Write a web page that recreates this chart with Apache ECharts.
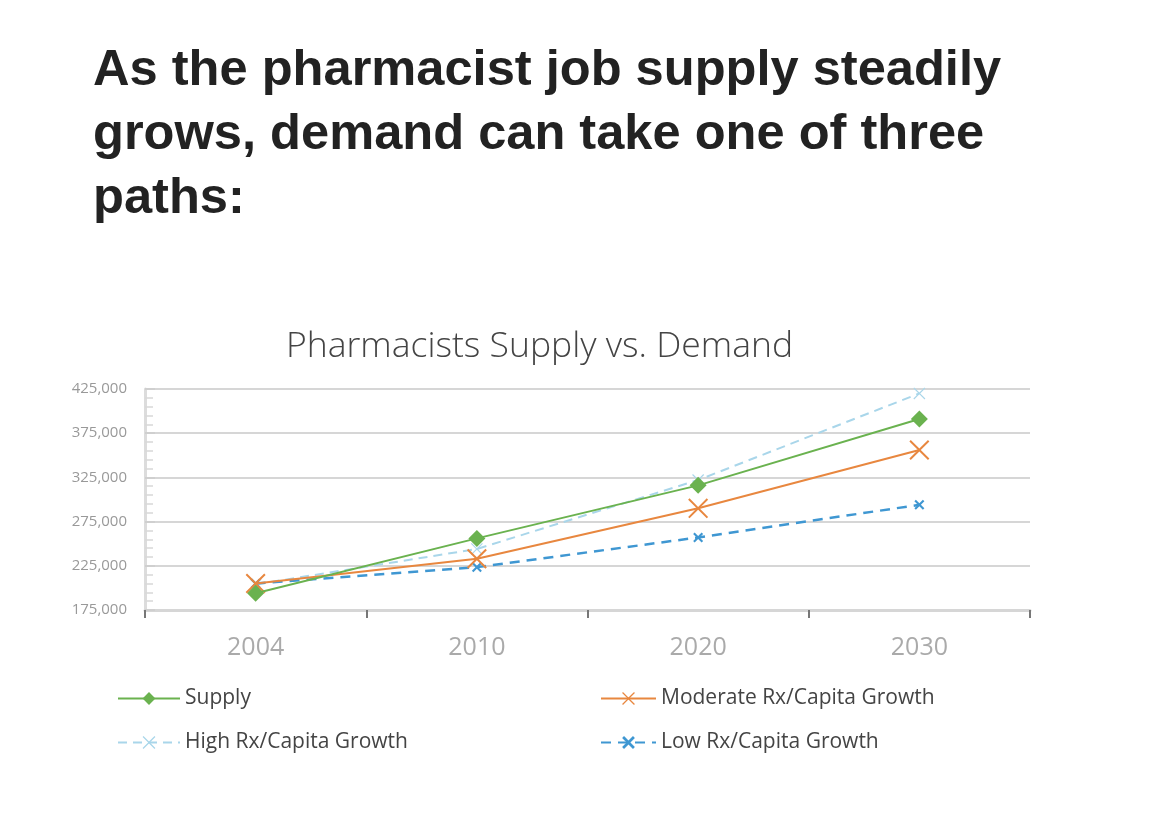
<!DOCTYPE html>
<html>
<head>
<meta charset="utf-8">
<script src="https://cdn.jsdelivr.net/npm/echarts@6/dist/echarts.min.js"></script>
<style>
  html, body { margin: 0; padding: 0; background: #fff; }
  #chart { width: 1170px; height: 822px; }
</style>
</head>
<body>
<div id="chart"></div>
<script>
var years = ['2004', '2010', '2020', '2030'];
var supply = [194000, 256000, 316000, 391000];
var moderate = [205000, 233000, 290000, 356000];
var high = [204000, 244000, 322000, 420000];
var low = [205000, 223500, 257000, 294000];

// X cross drawn as a filled outline
var crossPath = 'path://M0,1.4L1.4,0L10,8.6L18.6,0L20,1.4L11.4,10L20,18.6L18.6,20L10,11.4L1.4,20L0,18.6L8.6,10Z';
var boldCross = 'path://M0,3L3,0L10,7L17,0L20,3L13,10L20,17L17,20L10,13L3,20L0,17L7,10Z';

var myChart = echarts.init(document.getElementById('chart'));
var option = {
  backgroundColor: '#fff',
  textStyle: { fontFamily: 'Open Sans' },
  title: [
    {
      text: 'As the pharmacist job supply steadily\ngrows, demand can take one of three\npaths:',
      left: 88,
      top: 34,
      textStyle: {
        fontFamily: 'Liberation Sans',
        fontSize: 50.6,
        fontWeight: 'bold',
        lineHeight: 64,
        color: '#222'
      }
    },
    {
      text: 'Pharmacists Supply vs. Demand',
      left: 281,
      top: 324,
      textStyle: {
        fontFamily: 'Open Sans',
        fontSize: 35.5,
        fontWeight: 300,
        color: '#444'
      }
    }
  ],
  legend: [
    {
      data: ['Supply', 'High Rx/Capita Growth'],
      orient: 'vertical',
      left: 112,
      top: 683,
      itemWidth: 62,
      itemHeight: 16,
      itemGap: 23,
      textStyle: { fontSize: 21, color: '#444', fontFamily: 'Open Sans' }
    },
    {
      data: ['Moderate Rx/Capita Growth', 'Low Rx/Capita Growth'],
      orient: 'vertical',
      left: 595,
      top: 683,
      itemWidth: 55,
      itemHeight: 16,
      itemGap: 23,
      textStyle: { fontSize: 21, color: '#444', fontFamily: 'Open Sans' }
    }
  ],
  grid: { left: 145, right: 140, top: 389, bottom: 212 },
  xAxis: {
    type: 'category',
    data: years,
    boundaryGap: true,
    axisLine: { lineStyle: { color: '#d6d6d6', width: 3 } },
    axisTick: { show: true, length: 8, lineStyle: { color: '#777', width: 2 } },
    axisLabel: { fontSize: 25, color: '#aaa', margin: 25 }
  },
  yAxis: {
    type: 'value',
    min: 175000,
    max: 425000,
    interval: 50000,
    axisLine: { show: true, lineStyle: { color: '#dcdcdc', width: 3 } },
    axisTick: { show: true, inside: true, length: 10, lineStyle: { color: '#cfcfcf', width: 2 } },
    minorTick: { show: true, splitNumber: 5, length: 8, lineStyle: { color: '#d8d8d8', width: 1.5 } },
    splitLine: { lineStyle: { color: '#d6d6d6', width: 2 } },
    axisLabel: {
      fontSize: 15,
      color: '#999',
      margin: 18,
      formatter: function (v) { return v.toLocaleString('en-US'); }
    }
  },
  series: [
    {
      name: 'Supply',
      type: 'line',
      data: supply,
      symbol: 'diamond',
      symbolSize: 17,
      color: '#6ab24f',
      lineStyle: { width: 2 },
      z: 4
    },
    {
      name: 'Moderate Rx/Capita Growth',
      type: 'line',
      data: moderate,
      symbol: crossPath,
      symbolSize: 20,
      color: '#e8873f',
      lineStyle: { width: 2 },
      z: 3
    },
    {
      name: 'High Rx/Capita Growth',
      type: 'line',
      data: high,
      symbol: crossPath,
      symbolSize: 12,
      color: '#a9d6ea',
      lineStyle: { width: 2, type: [9, 6] },
      z: 2
    },
    {
      name: 'Low Rx/Capita Growth',
      type: 'line',
      data: low,
      symbol: boldCross,
      symbolSize: 10,
      color: '#3f97d2',
      lineStyle: { width: 2.5, type: [10, 7] },
      z: 2
    }
  ]
};
myChart.setOption(option);
</script>
</body>
</html>
